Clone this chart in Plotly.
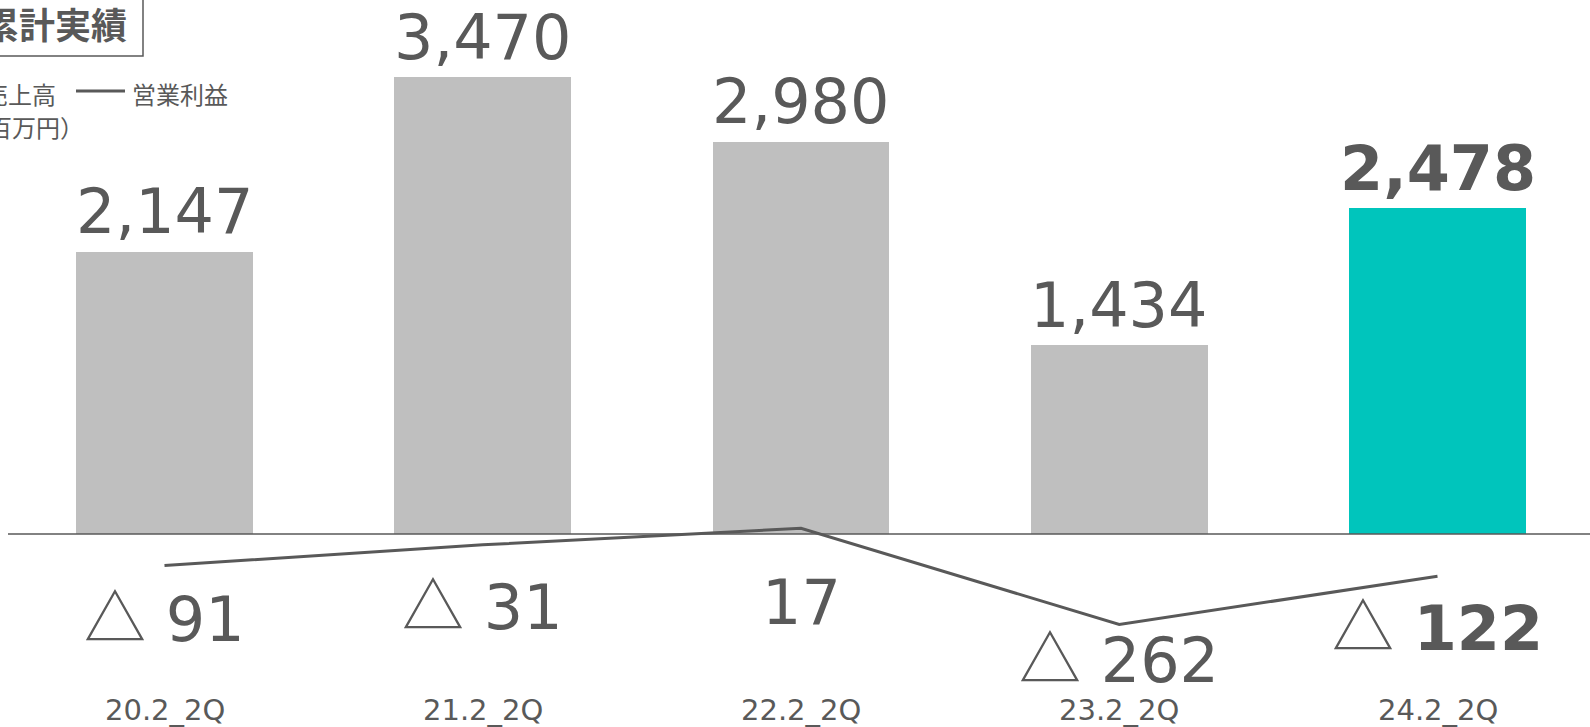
import plotly.graph_objects as go

categories = ["20.2_2Q", "21.2_2Q", "22.2_2Q", "23.2_2Q", "24.2_2Q"]
sales = [2147, 3470, 2980, 1434, 2478]
profit = [-91, -31, 17, -262, -122]
sales_labels = ["2,147", "3,470", "2,980", "1,434", "<b>2,478</b>"]
profit_labels = ["△ 91", "△ 31", "17", "△ 262", "△ <b>122</b>"]

W, H = 1590, 727
GRAY = "#595959"
BAR = "#BFBFBF"
TEAL = "#00C5BC"
FONT = "DejaVu Sans, Verdana, Noto Sans CJK JP, sans-serif"
CJK = "Noto Sans CJK JP, sans-serif"

def px(x):
    return x / W

def py(y):
    return 1 - y / H

xs = list(range(len(categories)))
colors = [BAR] * (len(categories) - 1) + [TEAL]

fig = go.Figure()
fig.add_trace(go.Bar(x=xs, y=sales, marker=dict(color=colors, line=dict(width=0)),
                     width=0.556, yaxis="y", hoverinfo="skip", showlegend=False))
fig.add_trace(go.Scatter(x=xs, y=profit, mode="lines", line=dict(color=GRAY, width=3),
                         yaxis="y2", hoverinfo="skip", showlegend=False))

ann = []
for i, (v, t) in enumerate(zip(sales, sales_labels)):
    ann.append(dict(x=i, y=v, xref="x", yref="y", text=t, showarrow=False,
                    yanchor="middle", yshift=40, font=dict(size=62, color=GRAY, family=FONT)))

profit_label_y = [614, 602, 602, 655, 623]
for i, (t, yy) in enumerate(zip(profit_labels, profit_label_y)):
    t2 = t.replace("△", '<span style="font-family:Noto Sans CJK JP">△</span>')
    ann.append(dict(x=i, y=py(yy), xref="x", yref="paper", text=t2, showarrow=False,
                    yanchor="middle", font=dict(size=62, color=GRAY, family=FONT)))

for i, c in enumerate(categories):
    ann.append(dict(x=i, y=py(710), xref="x", yref="paper", text=c, showarrow=False,
                    yanchor="middle", font=dict(size=29, color=GRAY, family=FONT)))

# title + legend
ann.append(dict(x=px(129), y=py(23), xref="paper", yref="paper", text="<b>累計実績</b>",
                showarrow=False, xanchor="right", yanchor="middle",
                font=dict(size=36, color=GRAY, family=CJK)))
ann.append(dict(x=px(58), y=py(93), xref="paper", yref="paper", text="売上高",
                showarrow=False, xanchor="right", yanchor="middle",
                font=dict(size=24, color=GRAY, family=CJK)))
ann.append(dict(x=px(130), y=py(93), xref="paper", yref="paper", text="営業利益",
                showarrow=False, xanchor="left", yanchor="middle",
                font=dict(size=24, color=GRAY, family=CJK)))
ann.append(dict(x=px(86), y=py(126), xref="paper", yref="paper", text="（百万円）",
                showarrow=False, xanchor="right", yanchor="middle",
                font=dict(size=24, color=GRAY, family=CJK)))

shapes = [
    dict(type="rect", xref="paper", yref="paper", x0=-0.1, x1=px(143), y0=py(56), y1=1.2,
         line=dict(color=GRAY, width=1.5), fillcolor="rgba(0,0,0,0)", layer="below"),
    dict(type="line", xref="paper", yref="paper", x0=px(76), x1=px(125), y0=py(91), y1=py(91),
         line=dict(color=GRAY, width=3)),
    dict(type="line", xref="paper", yref="y", x0=px(8), x1=1, y0=0, y1=0,
         line=dict(color=GRAY, width=1.5)),
]

fig.update_layout(
    width=W, height=H,
    margin=dict(l=0, r=0, t=0, b=0),
    paper_bgcolor="white", plot_bgcolor="white",
    xaxis=dict(range=[-0.5169, 4.4792], visible=False, fixedrange=True),
    yaxis=dict(range=[-1467, 4059], visible=False, fixedrange=True),
    yaxis2=dict(range=[-559, 1548], visible=False, overlaying="y", fixedrange=True),
    annotations=ann, shapes=shapes, showlegend=False, bargap=0,
)

fig.write_html("out.html")
